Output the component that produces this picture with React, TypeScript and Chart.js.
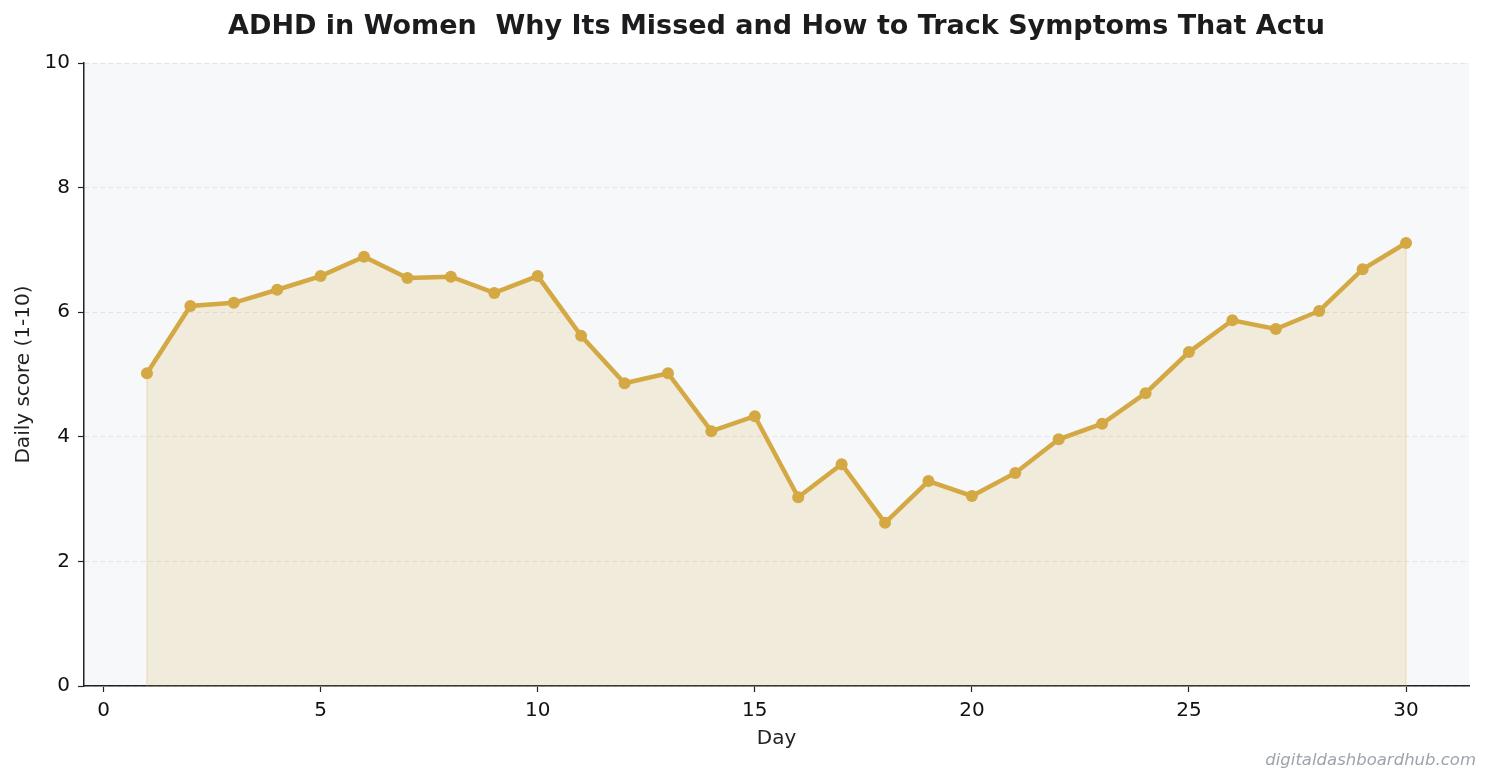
import React, { useEffect, useRef } from "react";
import { Chart, registerables } from "chart.js";

Chart.register(...registerables);

const TITLE = "ADHD in Women  Why Its Missed and How to Track Symptoms That Actu";
const WATERMARK = "digitaldashboardhub.com";

const days = [1, 2, 3, 4, 5, 6, 7, 8, 9, 10, 11, 12, 13, 14, 15, 16, 17, 18, 19, 20, 21, 22, 23, 24, 25, 26, 27, 28, 29, 30];
const scores = [
  5.02, 6.1, 6.15, 6.36, 6.58, 6.89, 6.55, 6.57, 6.31, 6.58,
  5.62, 4.86, 5.02, 4.09, 4.33, 3.03, 3.56, 2.62, 3.29, 3.05,
  3.42, 3.96, 4.21, 4.7, 5.36, 5.87, 5.73, 6.02, 6.69, 7.11,
];
const xTicks = [0, 5, 10, 15, 20, 25, 30];
const yTicks = [0, 2, 4, 6, 8, 10];

const LINE = "#d4a843";
const FONT = "DejaVu Sans";

// plot background, title and watermark
const decorations = {
  id: "decorations",
  beforeDraw(chart: any) {
    const { ctx, chartArea: a } = chart;
    ctx.save();
    ctx.fillStyle = "#f7f8fa";
    ctx.fillRect(a.left, a.top, a.right - a.left, a.bottom - a.top);
    ctx.restore();
  },
  afterDatasetsDraw(chart: any) {
    // faint edges of the filled area, like fill_between
    const { ctx, chartArea: a, scales } = chart;
    ctx.save();
    ctx.strokeStyle = "rgba(212,168,67,0.22)";
    ctx.lineWidth = 1.5;
    [days[0], days[days.length - 1]].forEach((d, k) => {
      const x = scales.x.getPixelForValue(d);
      const y = scales.y.getPixelForValue(k === 0 ? scores[0] : scores[scores.length - 1]);
      ctx.beginPath();
      ctx.moveTo(x, a.bottom);
      ctx.lineTo(x, y + 6);
      ctx.stroke();
    });
    ctx.restore();
  },
  afterDraw(chart: any) {
    const { ctx, chartArea: a, width, height } = chart;
    ctx.save();
    ctx.fillStyle = "#1c1c1e";
    ctx.font = `bold 27px "${FONT}"`;
    ctx.textAlign = "center";
    ctx.textBaseline = "middle";
    ctx.fillText(TITLE, (a.left + a.right) / 2, 27);
    ctx.fillStyle = "#9ea3ad";
    ctx.font = `italic 16.5px "${FONT}"`;
    ctx.textAlign = "right";
    ctx.textBaseline = "alphabetic";
    ctx.fillText(WATERMARK, width - 16, height - 18);
    ctx.restore();
  },
};

const App = () => {
  const chartRef = useRef<HTMLCanvasElement | null>(null);

  useEffect(() => {
    const ctx = chartRef.current!.getContext("2d")!;
    const myChart = new Chart(ctx, {
      type: "line",
      data: {
        datasets: [
          {
            label: "Daily score",
            data: days.map((d, i) => ({ x: d, y: scores[i] })),
            borderColor: LINE,
            borderWidth: 4.5,
            backgroundColor: "rgba(212,168,67,0.16)",
            fill: "origin",
            pointRadius: 6,
            pointBackgroundColor: LINE,
            pointBorderColor: LINE,
            pointBorderWidth: 0,
            tension: 0,
          },
        ],
      },
      options: {
        responsive: true,
        maintainAspectRatio: false,
        animation: false,
        layout: { padding: { top: 63, right: 23, bottom: 0, left: 0 } },
        plugins: {
          legend: { display: false },
          title: { display: false },
          tooltip: { enabled: false },
        },
        scales: {
          x: {
            type: "linear",
            min: -0.45,
            max: 31.45,
            afterFit: (scale: any) => {
              scale.height = 97;
            },
            afterBuildTicks: (scale: any) => {
              scale.ticks = xTicks.map((v) => ({ value: v }));
            },
            ticks: {
              color: "#111",
              font: { family: FONT, size: 20 },
              padding: 7,
              maxRotation: 0,
            },
            grid: {
              drawOnChartArea: false,
              drawTicks: true,
              tickLength: 6,
              tickColor: "#222",
              tickWidth: 1.2,
            },
            border: { color: "#222", width: 1.5 },
            title: {
              display: true,
              text: "Day",
              color: "#222",
              font: { family: FONT, size: 20 },
              padding: { top: 0, bottom: 32 },
            },
          },
          y: {
            min: 0,
            max: 10,
            afterFit: (scale: any) => {
              scale.width = 84;
            },
            afterBuildTicks: (scale: any) => {
              scale.ticks = yTicks.map((v) => ({ value: v }));
            },
            ticks: {
              color: "#111",
              font: { family: FONT, size: 20 },
              padding: 8,
            },
            grid: {
              color: "#e2e4e8",
              lineWidth: 1,
              drawTicks: true,
              tickLength: 6,
              tickColor: "#222",
              tickWidth: 1.2,
              tickBorderDash: [],
            },
            border: { color: "#222", width: 1.5, dash: [5, 3] },
            title: {
              display: true,
              text: "Daily score (1-10)",
              color: "#222",
              font: { family: FONT, size: 20 },
              padding: { top: 12, bottom: 0 },
            },
          },
        },
      },
      plugins: [decorations],
    });

    return () => {
      myChart.destroy();
    };
  }, []);

  return (
    <div style={{ position: "absolute", left: 0, top: 0, width: 1492, height: 783, background: "#fff" }}>
      <canvas ref={chartRef}></canvas>
    </div>
  );
};

export default App;
